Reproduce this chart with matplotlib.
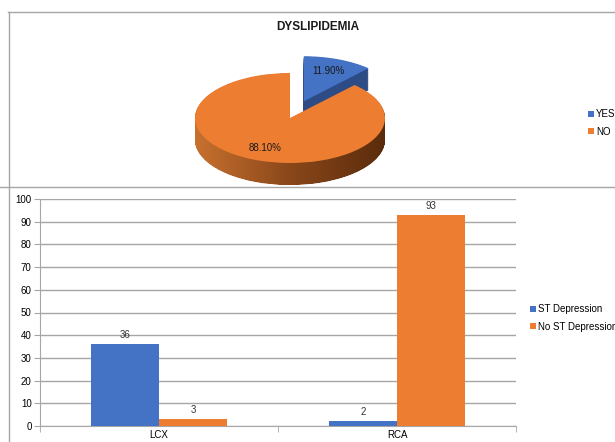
import numpy as np
import matplotlib
matplotlib.use("Agg")
import matplotlib.pyplot as plt
from matplotlib.lines import Line2D
from matplotlib.path import Path
from matplotlib.patches import PathPatch
from matplotlib.colors import LinearSegmentedColormap

plt.rcParams['font.family'] = ['Liberation Sans', 'DejaVu Sans']

# pie data
pie_labels = ['YES', 'NO']
pie_values = [11.90, 88.10]
pie_explode = [0.4, 0.0]

# bar data
arteries = ['LCX', 'RCA']
series_names = ['ST Depression', 'No ST Depression']
st_depression = [36, 2]
no_st_depression = [3, 93]
y_ticks = [0, 10, 20, 30, 40, 50, 60, 70, 80, 90, 100]

BLUE = '#4472c4'
ORANGE = '#ed7d31'
DARK_BLUE = '#2d4c86'
GRID = '#a6a6a6'

W, H = 615, 442
fig = plt.figure(figsize=(W / 100, H / 100), dpi=100)

# frame lines around the two chart areas
for xs, ys in [([8 / W, 1], [1 - 12 / H] * 2),
               ([8.5 / W] * 2, [0, 1 - 12 / H]),
               ([0, 1], [1 - 187 / H] * 2)]:
    fig.add_artist(Line2D(xs, ys, transform=fig.transFigure, color=GRID, lw=1))

# ---- 3D-ish pie ----
# axes spans px 150..430 horizontally, 40..190 vertically; pie centre at (290, 118)
rx, ry = 95, 45
ax_p = fig.add_axes([150 / W, (H - 190) / H, 280 / W, 150 / H])
depth = 22 / ry
n_layers = 40
orange_paths = []
for k in range(n_layers, 0, -1):
    wedges, _ = ax_p.pie(pie_values, explode=pie_explode, startangle=90, counterclock=False,
                         center=(0, -depth * k / n_layers), colors=[DARK_BLUE, ORANGE],
                         wedgeprops=dict(linewidth=0))
    wedges[0].set_zorder(1)
    orange_paths.append(wedges[1].get_path())
    wedges[1].set_visible(False)

top, texts, autotexts = ax_p.pie(pie_values, explode=pie_explode, startangle=90, counterclock=False,
                                 colors=[BLUE, ORANGE], autopct='%.2f%%', pctdistance=0.72,
                                 textprops=dict(fontsize=7, color='#1a1a1a'),
                                 wedgeprops=dict(linewidth=0))
top[0].set_zorder(2)
top[1].set_zorder(4)
for t in autotexts:
    t.set_zorder(5)

side_cmap = LinearSegmentedColormap.from_list('side', ['#c8712f', '#8a471a', '#5a2c0c'])
grad = np.linspace(0, 1, 256)[None, :]
img = ax_p.imshow(grad, cmap=side_cmap, extent=(-1, 1, -1 - depth, 1), aspect='auto', zorder=3)
clip = PathPatch(Path.make_compound_path(*orange_paths), transform=ax_p.transData)
img.set_clip_path(clip)

ax_p.set_aspect('auto')
ax_p.set_xlim(-140 / rx, 140 / rx)
ax_p.set_ylim(-72 / ry, 78 / ry)
ax_p.axis('off')

fig.text(318 / W, 1 - 27 / H, 'DYSLIPIDEMIA', ha='center', va='center',
         fontsize=8.5, fontweight='bold', color='#1a1a1a')
fig.legend(top, pie_labels, loc='center left', bbox_to_anchor=(588 / W, 1 - 123 / H),
           frameon=False, fontsize=7, handlelength=0.6, handleheight=0.6,
           handletextpad=0.2, labelspacing=0.75, borderpad=0, borderaxespad=0)

# ---- bar chart ----
ax_b = fig.add_axes([40 / W, 16 / H, 476 / W, 227 / H])
x = np.arange(len(arteries))
bw = 0.285
b1 = ax_b.bar(x - bw / 2, st_depression, bw, color=BLUE, label=series_names[0], zorder=3)
b2 = ax_b.bar(x + bw / 2, no_st_depression, bw, color=ORANGE, label=series_names[1], zorder=3)
ax_b.bar_label(b1, padding=3, fontsize=7, color='#333333')
ax_b.bar_label(b2, padding=3, fontsize=7, color='#333333')

ax_b.set_xlim(-0.5, 1.5)
ax_b.set_ylim(0, 100)
ax_b.set_yticks(y_ticks)
ax_b.set_xticks(x)
ax_b.set_xticklabels(arteries)
ax_b.set_xticks([-0.5, 0.5, 1.5], minor=True)
ax_b.tick_params(axis='x', which='major', length=0, labelsize=7, pad=3)
ax_b.tick_params(axis='x', which='minor', length=4, color=GRID)
ax_b.tick_params(axis='y', length=4, color=GRID, labelsize=7, pad=2)
ax_b.yaxis.grid(True, color=GRID, lw=1)
ax_b.set_axisbelow(True)
for s in ['top', 'right']:
    ax_b.spines[s].set_visible(False)
for s in ['left', 'bottom']:
    ax_b.spines[s].set_color(GRID)
ax_b.legend(loc='center left', bbox_to_anchor=(530 / W, 1 - 318 / H), bbox_transform=fig.transFigure,
            frameon=False, fontsize=7, handlelength=0.6, handleheight=0.6,
            handletextpad=0.2, labelspacing=0.75, borderpad=0, borderaxespad=0)

fig.savefig('out.png', dpi=100)
